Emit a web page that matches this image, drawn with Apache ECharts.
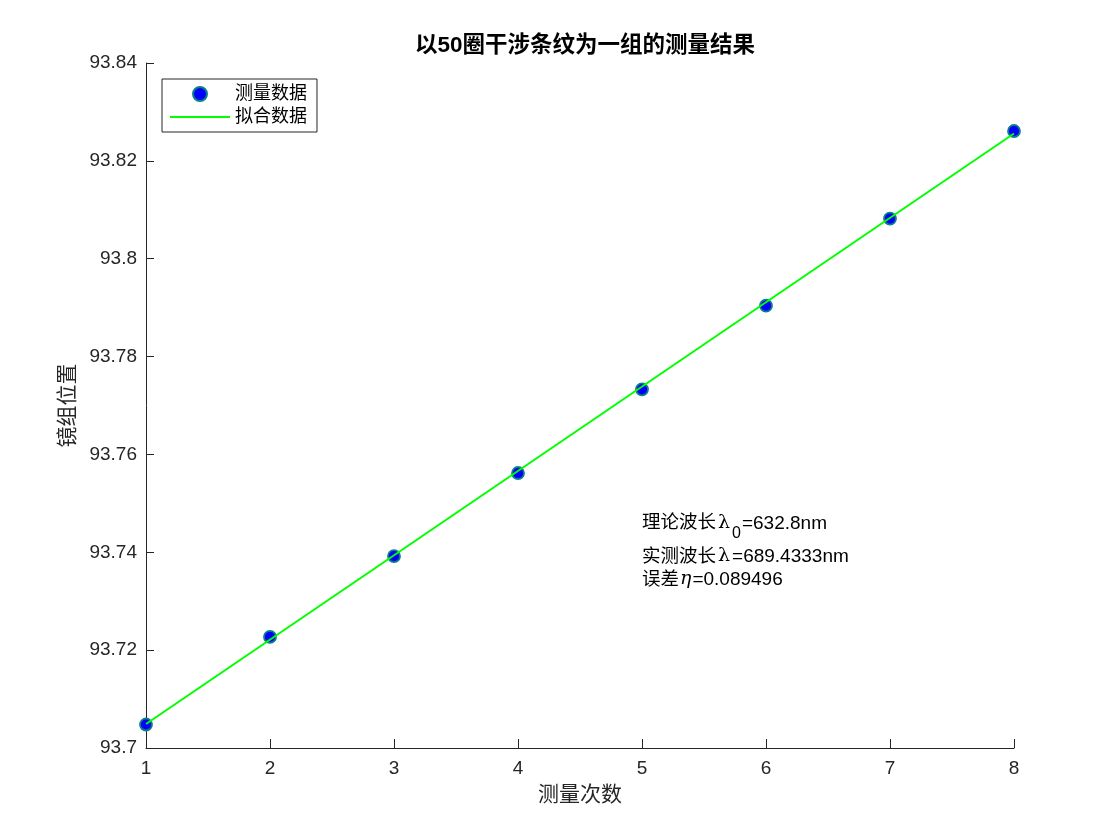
<!DOCTYPE html>
<html>
<head>
<meta charset="utf-8">
<script src="https://cdn.jsdelivr.net/npm/echarts@6/dist/echarts.min.js"></script>
<style>html,body{margin:0;padding:0;background:#fff}#c{width:1120px;height:840px}</style>
</head>
<body>
<div id="c"></div>
<script>
const measureX = [1, 2, 3, 4, 5, 6, 7, 8];
const measureY = [93.7048, 93.7227, 93.7392, 93.7562, 93.7733, 93.7904, 93.8082, 93.8261];
const fitX = [1, 8];
const fitY = [93.7049, 93.8256];
const titleText = '以50圈干涉条纹为一组的测量结果';
const xName = '测量次数';
const yName = '镜组位置';
const seriesNames = ['测量数据', '拟合数据'];

const FONT = "'Liberation Sans', 'Noto Sans CJK SC', sans-serif";
const AX = '#262626';

const chart = echarts.init(document.getElementById('c'), null, {renderer: 'canvas'});
chart.setOption({
  backgroundColor: '#ffffff',
  animation: false,
  textStyle: {fontFamily: FONT},
  title: {
    text: titleText, left: 580, top: 30, textAlign: 'center',
    textStyle: {fontSize: 22.5, fontWeight: 'bold', color: '#000', fontFamily: FONT}
  },
  grid: {left: 146, right: 106, top: 63, bottom: 92, containLabel: false},
  legend: {
    orient: 'vertical', left: 162, top: 79,
    padding: [6, 10, 6, 8],
    itemWidth: 60, itemHeight: 14, itemGap: 5,
    borderColor: AX, borderWidth: 1, backgroundColor: '#fff',
    textStyle: {fontSize: 18, lineHeight: 18, color: '#000', fontFamily: FONT},
    data: [
      {name: seriesNames[0], icon: 'circle'},
      {name: seriesNames[1], icon: 'path://M0,0 L60,0 L60,2 L0,2 Z', itemStyle: {color: '#00ff00', borderWidth: 0}}
    ]
  },
  xAxis: {
    type: 'value', min: 1, max: 8, interval: 1,
    name: xName, nameLocation: 'middle', nameGap: 37,
    nameTextStyle: {fontSize: 21, color: AX, fontFamily: FONT},
    axisLine: {show: true, lineStyle: {color: AX, width: 1}},
    axisTick: {show: true, inside: true, length: 9, lineStyle: {color: AX}},
    axisLabel: {fontSize: 19, color: AX, margin: 11, fontFamily: FONT},
    splitLine: {show: false}
  },
  yAxis: {
    type: 'value', min: 93.7, max: 93.84, interval: 0.02,
    name: yName, nameLocation: 'middle', nameGap: 67, nameRotate: 90,
    nameTextStyle: {fontSize: 21, color: AX, fontFamily: FONT},
    axisLine: {show: true, lineStyle: {color: AX, width: 1}},
    axisTick: {show: true, inside: true, length: 8, lineStyle: {color: AX}},
    axisLabel: {fontSize: 19, color: AX, margin: 9, fontFamily: FONT,
      formatter: v => String(parseFloat(v.toFixed(2)))},
    splitLine: {show: false}
  },
  series: [
    {
      name: seriesNames[0], type: 'scatter', z: 2,
      symbol: 'circle', symbolSize: 12,
      itemStyle: {color: '#0000ff', borderColor: '#0a7f8a', borderWidth: 1.8, opacity: 1},
      data: measureX.map((x, i) => [x, measureY[i]])
    },
    {
      name: seriesNames[1], type: 'line', z: 3,
      symbol: 'none', showSymbol: false,
      lineStyle: {color: '#00ff00', width: 2},
      itemStyle: {color: '#00ff00'},
      data: fitX.map((x, i) => [x, fitY[i]])
    }
  ],
  graphic: [
    {
      type: 'text', left: 642, top: 514, z: 10,
      style: {
        text: '{c|理论波长}{l|λ}{s|0}{t|=632.8nm}',
        rich: {
          c: {fontSize: 18.5, lineHeight: 22, verticalAlign: 'top', fill: '#000', fontFamily: FONT},
          t: {fontSize: 19, lineHeight: 22, verticalAlign: 'top', fill: '#000', fontFamily: FONT},
          l: {fontSize: 19, lineHeight: 22, verticalAlign: 'top', padding: [0, 2, 0, 2], fill: '#000', fontFamily: "'DejaVu Serif', serif"},
          s: {fontSize: 16, lineHeight: 16, padding: [12, 1, 0, 0], verticalAlign: 'top', fill: '#000', fontFamily: FONT}
        }
      }
    },
    {
      type: 'text', left: 642, top: 547, z: 10,
      style: {
        text: '{c|实测波长}{l|λ}{t|=689.4333nm}',
        rich: {
          c: {fontSize: 18.5, lineHeight: 22, fill: '#000', fontFamily: FONT},
          t: {fontSize: 19, lineHeight: 22, fill: '#000', fontFamily: FONT},
          l: {fontSize: 19, lineHeight: 22, padding: [0, 2, 0, 2], fill: '#000', fontFamily: "'DejaVu Serif', serif"}
        }
      }
    },
    {
      type: 'text', left: 642, top: 570, z: 10,
      style: {
        text: '{c|误差}{i|η}{t|=0.089496}',
        rich: {
          c: {fontSize: 18.5, lineHeight: 22, fill: '#000', fontFamily: FONT},
          t: {fontSize: 19, lineHeight: 22, fill: '#000', fontFamily: FONT},
          i: {fontSize: 19, lineHeight: 22, padding: [0, 1, 0, 1], fontStyle: 'italic', fill: '#000', fontFamily: "'DejaVu Serif', serif"}
        }
      }
    }
  ]
});
</script>
</body>
</html>
